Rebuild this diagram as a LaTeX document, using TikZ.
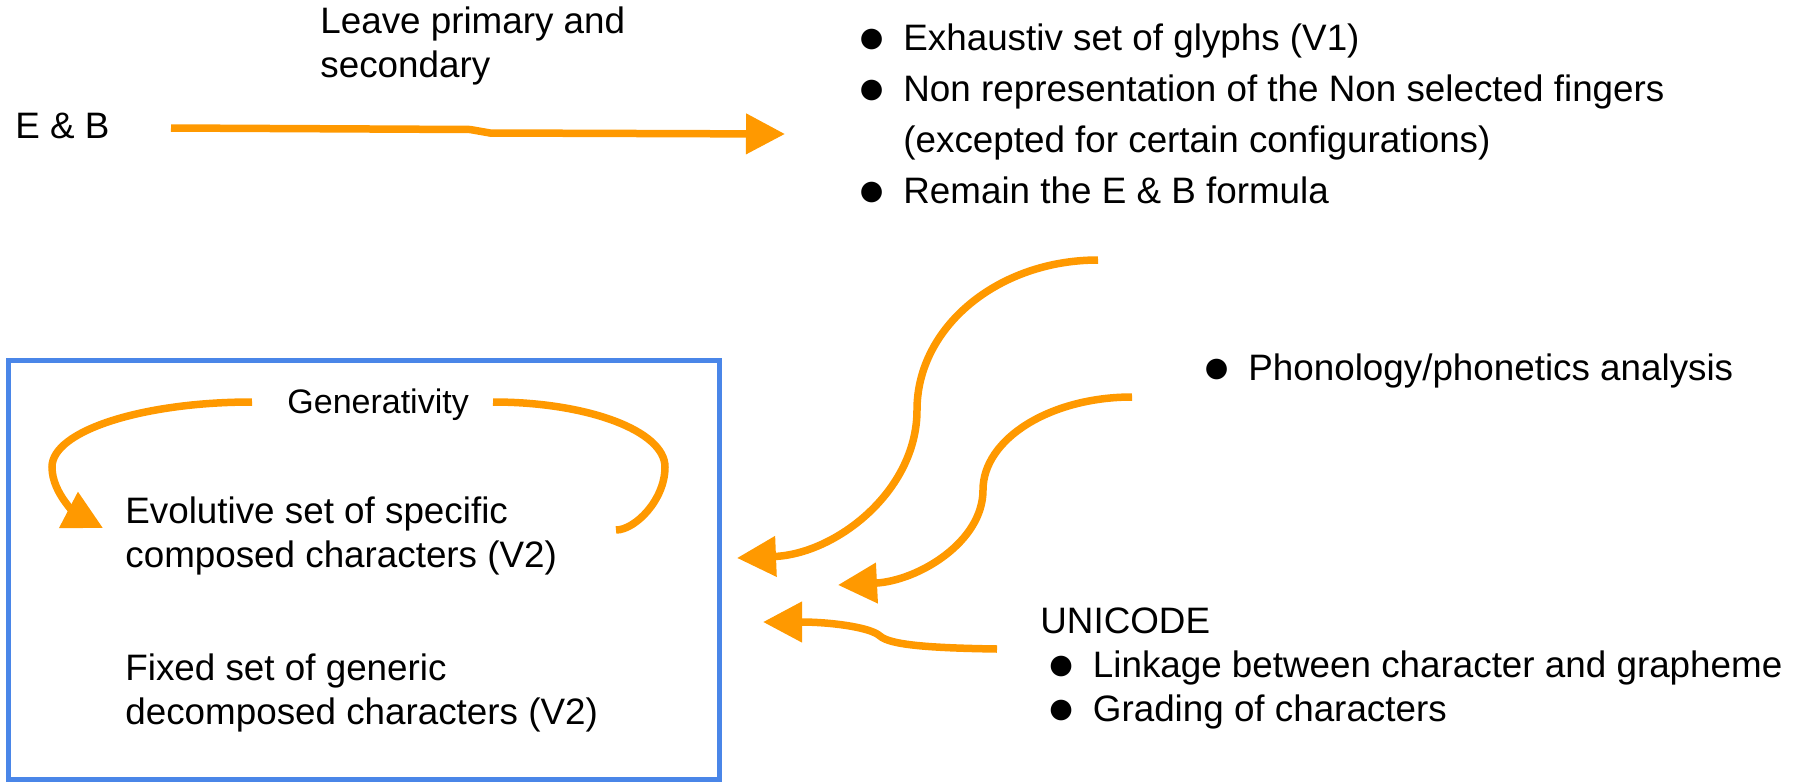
\documentclass[tikz,border=0pt]{standalone}
\usepackage{fontspec}
\setmainfont{Liberation Sans}
\newfontfamily\dejavu{DejaVu Sans}
\usetikzlibrary{arrows.meta}
\usetikzlibrary{positioning}

\definecolor{slideorange}{HTML}{FF9900}
\definecolor{slideblue}{HTML}{4A86E8}

% bullet of the slide lists
\newcommand{\bul}{\makebox[21.75pt][l]{\raisebox{1.8pt}{\dejavu\fontsize{13.5}{13.5}\selectfont ●}}}

\begin{document}
\begin{tikzpicture}[
	x=0.5pt, y=-0.5pt,
	txt/.style={inner sep=0pt, anchor=base west, font=\fontsize{18.4}{22}\selectfont},
	loose/.style={font=\fontsize{18.4}{25.5}\selectfont},
	flow/.style={line width=3.75pt, slideorange, -{Triangle[length=19.5pt, width=19.5pt]}},
	loop/.style={line width=3.75pt, slideorange},
	frame/.style={line width=2.5pt, slideblue}
	]

	\useasboundingbox (0,0) rectangle (1810,782);

	% E & B and the first version
	\node[txt] (eb) at (15,138) {E \& B};
	\node[txt] (leave) at (320,33) {\begin{tabular}[t]{@{}l@{}}Leave primary and\\secondary\end{tabular}};
	\node[txt, loose] (v1list) at (859.5,50) {\begin{tabular}[t]{@{}l@{}l@{}}
		\bul & Exhaustiv set of glyphs (V1)\\
		\bul & Non representation of the Non selected fingers\\
		     & (excepted for certain configurations)\\
		\bul & Remain the E \& B formula
	\end{tabular}};

	\coordinate (ebOut) at (171,128);
	\coordinate (v1In) at (785,134);
	\draw[flow] (ebOut) -- (470,129.5) -- (490,133) -- (v1In);

	% other inputs
	\node[txt] (phono) at (1204.5,380) {\bul Phonology/phonetics analysis};
	\node[txt] (unicode) at (1040,633) {UNICODE};
	\node[txt] (unilist) at (1049,677) {\begin{tabular}[t]{@{}l@{}l@{}}
		\bul & Linkage between character and grapheme\\
		\bul & Grading of characters
	\end{tabular}};

	% the second version
	\draw[frame] (8,360) rectangle (719,779);
	\node[txt, font=\fontsize{17}{20}\selectfont] (gen) at (287,413) {Generativity};
	\node[txt] (evol) at (125,523) {\begin{tabular}[t]{@{}l@{}}Evolutive set of specific\\composed characters (V2)\end{tabular}};
	\node[txt] (fixed) at (125,680) {\begin{tabular}[t]{@{}l@{}}Fixed set of generic\\decomposed characters (V2)\end{tabular}};

	% generativity loop
	\coordinate (genL) at (252,402);
	\coordinate (genR) at (493,402);
	\coordinate (evolIn) at (103,528);
	\coordinate (loopEnd) at (616,530);
	\draw[flow] (genL) .. controls (142,402) and (52,431) .. (52,467)
		.. controls (52,495) and (80,516) .. (evolIn);
	\draw[loop] (genR) .. controls (588,402) and (665,431) .. (665,467)
		.. controls (665,500) and (635,530) .. (loopEnd);

	% arrows into the box
	\coordinate (v1Out) at (1098,260);
	\coordinate (boxInA) at (737,558);
	\draw[flow] (v1Out) .. controls (998,260) and (917,327) .. (917,410)
		.. controls (917,491) and (836,554) .. (boxInA);

	\coordinate (phonoOut) at (1132,397);
	\coordinate (boxInB) at (838,585);
	\draw[flow] (phonoOut) .. controls (1050,397) and (983,439) .. (983,490)
		.. controls (983,542) and (918,581) .. (boxInB);

	\coordinate (uniOut) at (997,649);
	\coordinate (boxInC) at (763,622);
	\draw[flow] (uniOut) .. controls (930,648) and (890,645) .. (880,636)
		.. controls (870,627) and (830,622) .. (boxInC);

\end{tikzpicture}
\end{document}
